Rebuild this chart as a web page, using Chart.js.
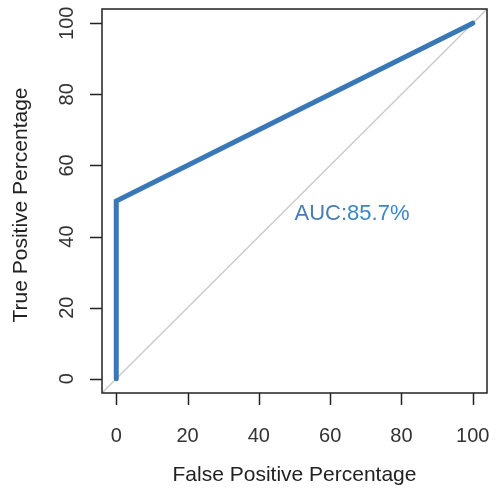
<!DOCTYPE html>
<html>
<head>
<meta charset="utf-8">
<script src="https://cdn.jsdelivr.net/npm/chart.js@4.4.1/dist/chart.umd.min.js"></script>
<style>
  html, body { margin: 0; padding: 0; background: #ffffff; }
  #wrap { width: 496px; height: 488px; }
</style>
</head>
<body>
<div id="wrap"><canvas id="c" width="496" height="488"></canvas></div>
<script>
// ---- data ----
const fprPercent = [0, 0, 50, 100];
const tprPercent = [0, 50, 75, 100];
const diagonalRange = [-4, 104];
const tickValues = [0, 20, 40, 60, 80, 100];
const tickLabels = ["0", "20", "40", "60", "80", "100"];
const axisMin = -4;
const axisMax = 104;
const aucLabel = "AUC:";
const aucValue = "85.7%";
const aucPos = { x: 50, y: 50 };
const xTitle = "False Positive Percentage";
const yTitle = "True Positive Percentage";

const rocPoints = fprPercent.map((x, i) => ({ x: x, y: tprPercent[i] }));
const diagPoints = diagonalRange.map(v => ({ x: v, y: v }));

const FONT = '"Liberation Sans", Arial, sans-serif';

const decorPlugin = {
  id: 'decor',
  afterDraw(chart) {
    const ctx = chart.ctx;
    const a = chart.chartArea;
    const xs = chart.scales.x, ys = chart.scales.y;
    ctx.save();
    // box
    ctx.strokeStyle = '#222222';
    ctx.lineWidth = 1.5;
    ctx.strokeRect(a.left, a.top, a.right - a.left, a.bottom - a.top);
    // ticks
    const tl = 12;
    ctx.beginPath();
    tickValues.forEach(v => {
      const px = Math.round(xs.getPixelForValue(v)) + 0.5;
      ctx.moveTo(px, a.bottom);
      ctx.lineTo(px, a.bottom + tl);
      const py = Math.round(ys.getPixelForValue(v)) + 0.5;
      ctx.moveTo(a.left, py);
      ctx.lineTo(a.left - tl, py);
    });
    ctx.stroke();
    // tick labels
    ctx.fillStyle = '#333333';
    ctx.font = '20px ' + FONT;
    ctx.textAlign = 'center';
    ctx.textBaseline = 'alphabetic';
    tickValues.forEach((v, i) => {
      ctx.fillText(tickLabels[i], xs.getPixelForValue(v), a.bottom + 49);
    });
    tickValues.forEach((v, i) => {
      ctx.save();
      ctx.translate(a.left - 29, ys.getPixelForValue(v));
      ctx.rotate(-Math.PI / 2);
      ctx.fillText(tickLabels[i], 0, 0);
      ctx.restore();
    });
    // titles
    ctx.font = '21px ' + FONT;
    ctx.fillStyle = '#222222';
    ctx.fillText(xTitle, (a.left + a.right) / 2, a.bottom + 88);
    ctx.save();
    ctx.translate(a.left - 75, (a.top + a.bottom) / 2 + 4);
    ctx.rotate(-Math.PI / 2);
    ctx.fillText(yTitle, 0, 0);
    ctx.restore();
    // AUC text
    ctx.font = '22px ' + FONT;
    ctx.textAlign = 'left';
    ctx.textBaseline = 'alphabetic';
    const ax = xs.getPixelForValue(aucPos.x);
    const ay = ys.getPixelForValue(aucPos.y) + 19;
    ctx.fillStyle = '#4a7db2';
    ctx.fillText(aucLabel, ax, ay);
    const w = ctx.measureText(aucLabel).width;
    ctx.fillStyle = '#3a86c8';
    ctx.fillText(aucValue, ax + w, ay);
    ctx.restore();
  }
};

new Chart(document.getElementById('c'), {
  type: 'line',
  data: {
    datasets: [
      {
        data: rocPoints,
        borderColor: '#3878b6',
        borderWidth: 5,
        pointRadius: 0,
        tension: 0,
        fill: false,
        borderCapStyle: 'round',
        borderJoinStyle: 'miter',
        order: 1
      },
      {
        data: diagPoints,
        borderColor: '#c8c8c8',
        borderWidth: 1.3,
        pointRadius: 0,
        tension: 0,
        fill: false,
        order: 2
      }
    ]
  },
  options: {
    responsive: false,
    animation: false,
    devicePixelRatio: 1,
    layout: { padding: { left: 102, right: 9, top: 9, bottom: 95 } },
    plugins: { legend: { display: false }, tooltip: { enabled: false } },
    scales: {
      x: { type: 'linear', min: axisMin, max: axisMax, display: false },
      y: { type: 'linear', min: axisMin, max: axisMax, display: false }
    }
  },
  plugins: [decorPlugin]
});
</script>
</body>
</html>
